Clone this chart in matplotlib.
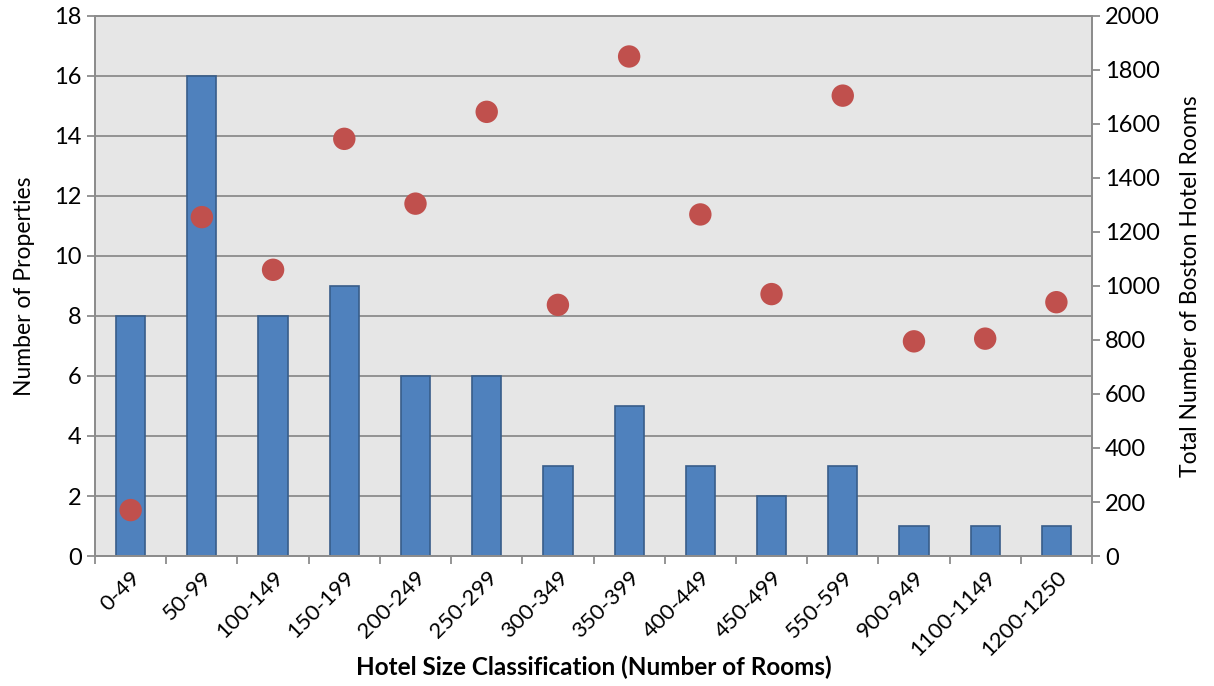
import matplotlib.pyplot as plt
import numpy as np

plt.rcParams['font.family'] = ['Lato', 'DejaVu Sans']

size_classes = ['0-49', '50-99', '100-149', '150-199', '200-249', '250-299', '300-349',
                '350-399', '400-449', '450-499', '550-599', '900-949', '1100-1149', '1200-1250']
num_properties = [8, 16, 8, 9, 6, 6, 3, 5, 3, 2, 3, 1, 1, 1]
total_rooms = [170, 1255, 1060, 1545, 1305, 1645, 930, 1850, 1265, 970, 1705, 795, 805, 940]

grid_col = '#8c8c8c'

fig = plt.figure(figsize=(12.14, 6.86), dpi=100)
ax = fig.add_axes([0.0783, 0.1895, 0.8212, 0.7872])
ax.set_facecolor('#e6e6e6')

x = np.arange(len(size_classes))
ax.bar(x, num_properties, width=0.41, color='#4f81bd', edgecolor='#385d8a', linewidth=1.2, zorder=2)
ax.set_xlim(-0.5, len(size_classes) - 0.5)
ax.set_ylim(0, 18)
ax.set_yticks(range(0, 19, 2))
ax.yaxis.grid(True, color=grid_col, linewidth=1.3, zorder=1)
ax.set_axisbelow(True)

# category boundary ticks, labels sit under the centres
ax.set_xticks(np.arange(-0.5, len(size_classes)), minor=False)
ax.set_xticklabels([])
ax.set_xticks(x, minor=True)
ax.set_xticklabels(size_classes, minor=True, rotation=45, ha='right', rotation_mode='anchor', fontsize=16)
ax.tick_params(axis='x', which='major', length=6, width=1.3, color=grid_col, direction='out')
ax.tick_params(axis='x', which='minor', length=0, pad=8)
ax.tick_params(axis='y', length=6, width=1.3, color=grid_col, labelsize=17)
for s in ax.spines.values():
    s.set_color(grid_col)
    s.set_linewidth(1.3)

ax.set_ylabel('Number of Properties', fontsize=16.5, labelpad=14)
ax.set_xlabel('Hotel Size Classification (Number of Rooms)', fontsize=17.5, fontweight='bold', labelpad=-3)

ax2 = ax.twinx()
ax2.scatter(x, total_rooms, s=260, color='#c0504d', edgecolors='none', zorder=3)
ax2.set_ylim(0, 2000)
ax2.set_yticks(range(0, 2001, 200))
ax2.tick_params(axis='y', length=6, width=1.3, color=grid_col, labelsize=17)
for s in ax2.spines.values():
    s.set_color(grid_col)
    s.set_linewidth(1.3)
ax2.set_ylabel('Total Number of Boston Hotel Rooms', fontsize=16.5, labelpad=14)

fig.savefig('out.png', dpi=100)
